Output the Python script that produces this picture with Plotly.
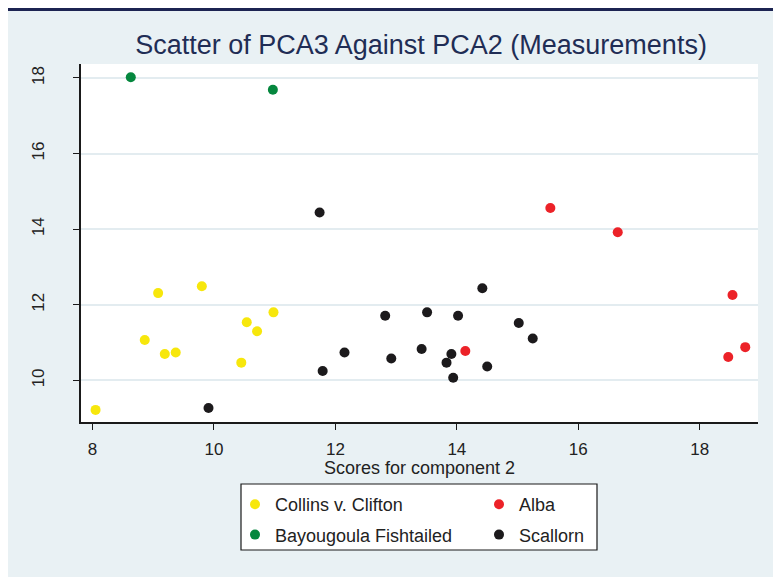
import plotly.graph_objects as go

# ---- data ----
collins_x = [8.05, 8.86, 9.08, 9.19, 9.37, 9.80, 10.45, 10.54, 10.71, 10.98]
collins_y = [9.22, 11.07, 12.31, 10.70, 10.74, 12.49, 10.47, 11.54, 11.30, 11.80]

alba_x = [14.14, 15.54, 16.65, 18.47, 18.54, 18.75]
alba_y = [10.78, 14.56, 13.92, 10.62, 12.26, 10.88]

bayou_x = [8.63, 10.97]
bayou_y = [18.02, 17.69]

scallorn_x = [9.91, 11.74, 11.79, 12.15, 12.82, 12.92, 13.42, 13.51, 13.83,
              13.91, 13.94, 14.02, 14.42, 14.50, 15.02, 15.25]
scallorn_y = [9.27, 14.44, 10.25, 10.74, 11.71, 10.58, 10.83, 11.80, 10.47,
              10.70, 10.07, 11.71, 12.44, 10.37, 11.52, 11.11]

x_ticks = [8, 10, 12, 14, 16, 18]
y_ticks = [10, 12, 14, 16, 18]

title_text = "Scatter of PCA3 Against PCA2 (Measurements)"
x_title = "Scores for component 2"

BG = "#e9f1f4"
FONT = "Liberation Sans, Arial, sans-serif"
TXT = "#222222"

W, H = 773, 569
L, R, T, B = 73, 23, 56, 155
PW, PH = W - L - R, H - T - B

series = [
    ("Collins v. Clifton", collins_x, collins_y, "#f7e70c", "legend"),
    ("Bayougoula Fishtailed", bayou_x, bayou_y, "#05873e", "legend"),
    ("Alba", alba_x, alba_y, "#ec2228", "legend2"),
    ("Scallorn", scallorn_x, scallorn_y, "#1c1a1c", "legend2"),
]

fig = go.Figure()
for name, xs, ys, col, lg in series:
    fig.add_trace(go.Scatter(
        x=xs, y=ys, mode="markers", name=name, legend=lg, legendgroup=name,
        marker=dict(color=col, size=10, line=dict(width=0)),
    ))


def px_x(fx):
    return (fx - L) / PW


def px_y(fy):
    return (H - B - fy) / PH


leg_common = dict(
    orientation="v", xanchor="left", yanchor="top",
    bgcolor="rgba(0,0,0,0)", borderwidth=0, tracegroupgap=4,
    font=dict(family=FONT, size=18, color=TXT),
)

fig.update_layout(
    width=W, height=H,
    paper_bgcolor=BG,
    plot_bgcolor="white",
    margin=dict(l=L, r=R, t=T, b=B),
    font=dict(family=FONT, size=17, color=TXT),
    title=dict(text=title_text, x=413 / W, xanchor="center",
               y=1 - 37 / H, yanchor="middle",
               font=dict(family=FONT, size=27, color="#1f2d55")),
    showlegend=True,
    legend=dict(x=px_x(227), y=px_y(478), **leg_common),
    legend2=dict(x=px_x(471), y=px_y(478), **leg_common),
    shapes=[
        dict(type="rect", xref="paper", yref="paper", layer="below",
             x0=px_x(0), x1=px_x(W), y0=px_y(3), y1=px_y(0),
             fillcolor="#1c2452", line=dict(width=0)),
        dict(type="rect", xref="paper", yref="paper",
             x0=px_x(233), x1=px_x(589), y0=px_y(542), y1=px_y(476),
             fillcolor="white", line=dict(color="#1a1a1a", width=1.2),
             layer="below"),
    ],
    annotations=[
        dict(text=x_title, xref="paper", yref="paper", x=0.5, y=px_y(460),
             xanchor="center", yanchor="middle", showarrow=False,
             font=dict(family=FONT, size=18, color=TXT)),
    ],
)

fig.update_xaxes(
    range=[7.81, 18.96], tickvals=x_ticks, ticks="outside", ticklen=6,
    tickcolor="#1a1a1a", showline=True, linecolor="#1a1a1a", linewidth=1.5,
    showgrid=False, zeroline=False, ticklabelstandoff=5,
    tickfont=dict(size=17, color=TXT),
)
fig.update_yaxes(
    range=[8.90, 18.37], tickvals=y_ticks, ticks="outside", ticklen=6,
    tickcolor="#1a1a1a", showline=True, linecolor="#1a1a1a", linewidth=1.5,
    showgrid=True, gridcolor="#e3ecf0", gridwidth=1.5, zeroline=False,
    tickangle=-90, ticklabelstandoff=22, tickfont=dict(size=17, color=TXT),
)

fig.write_html("out.html")
